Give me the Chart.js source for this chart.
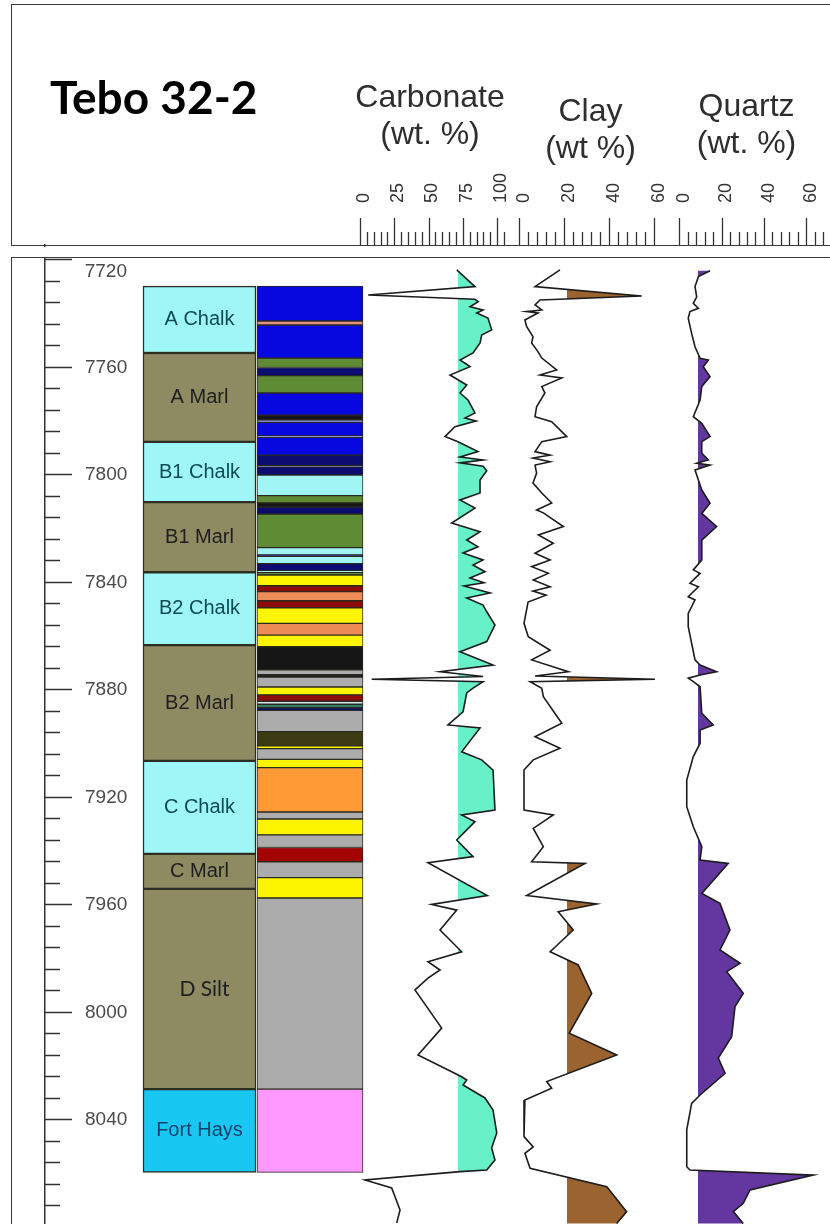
<!DOCTYPE html>
<html>
<head>
<meta charset="utf-8">
<title>Tebo 32-2</title>
<script src="https://cdn.jsdelivr.net/npm/chart.js@4.4.1/dist/chart.umd.min.js"></script>
<style>
  body { margin: 0; background: #fff; }
  #wrap { position: relative; width: 830px; height: 1224px; overflow: hidden; background: #fff; }
  .frame { position: absolute; border: 0 solid #3a3a3a; }
  #head { left: 11px; top: 4px; width: 840px; height: 239.5px; border-width: 1.5px 0 1.5px 1.5px; }
  #panel { left: 11px; top: 257px; width: 840px; height: 1000px; border-width: 1.5px 0 0 1.5px; }
  #chart { position: absolute; left: 0; top: 0; z-index: 1; }
  #gap { position: absolute; left: 0; top: 246.5px; width: 830px; height: 10.5px; background: #fff; z-index: 2; }
  #title { position: absolute; left: 50px; top: 74px; font: bold 46px Lato, sans-serif; line-height: 46px; color: #000; z-index: 3; }
  #topDepth { position: absolute; left: 70px; width: 57px; top: 260.5px; text-align: right; font: 19px 'Liberation Sans', Arial, sans-serif; line-height: 19px; color: #4a4a4a; z-index: 3; }
</style>
</head>
<body>
<div id="wrap">
  <div id="head" class="frame"></div>
  <div id="panel" class="frame"></div>
  <canvas id="chart" width="830" height="1224"></canvas>
  <div id="gap"></div>
  <div id="title">Tebo 32-2</div>
  <div id="topDepth">7720</div>
</div>
<script>
'use strict'

// formations (depth in ft)
const formName = ['A Chalk', 'A Marl', 'B1 Chalk', 'B1 Marl', 'B2 Chalk', 'B2 Marl', 'C Chalk', 'C Marl', 'D Silt', 'Fort Hays'];
const formTop  = [7729.7, 7754.6, 7787.7, 7810.1, 7836.2, 7863.3, 7906.4, 7941.0, 7954.0, 8028.5];
const formBase = [7754.6, 7787.7, 7810.1, 7836.2, 7863.3, 7906.4, 7941.0, 7954.0, 8028.5, 8059.5];

// lithofacies bands, contiguous from bandStart
const bandStart = 7729.7;
const bandBase = [7742.7, 7744.2, 7756.5, 7760.0, 7763.0, 7769.5, 7777.7, 7779.5, 7780.4, 7785.5,
  7786.0, 7792.6, 7796.5, 7797.0, 7800.0, 7807.7, 7810.4, 7811.9, 7814.5, 7827.0,
  7829.7, 7830.3, 7833.0, 7835.6, 7836.3, 7837.2, 7841.2, 7843.4, 7846.8, 7849.4,
  7855.2, 7859.6, 7863.9, 7872.5, 7874.3, 7875.2, 7878.9, 7881.8, 7884.2, 7885.3,
  7886.6, 7887.6, 7895.5, 7900.8, 7901.8, 7905.8, 7908.9, 7925.4, 7928.0, 7933.9,
  7938.6, 7943.9, 7949.8, 7957.4, 8028.5, 8059.5];
const bandFacies = ['blue', 'salmon', 'blue', 'green', 'navy', 'green', 'blue', 'black', 'lav', 'blue',
  'lav', 'blue', 'navy', 'lav', 'navy', 'cyan', 'green', 'black', 'navy', 'green',
  'cyan', 'navy', 'cyan', 'navy', 'cyan', 'green', 'yellow', 'darkRed', 'orange', 'darkRed',
  'yellow', 'orange', 'yellow', 'black', 'gray', 'black', 'gray', 'yellow', 'darkRed', 'pale',
  'teal', 'navy', 'gray', 'olive', 'yellow', 'gray', 'yellow', 'amber', 'gray', 'yellow',
  'gray', 'red', 'gray', 'yellow', 'gray', 'pink'];

// carbonate (wt. %)
const carbDepth = [7723.7, 7729.9, 7733.0, 7734.6, 7735.5, 7737.4, 7738.6, 7739.7, 7741.6, 7746.0,
  7747.9, 7750.9, 7754.6, 7757.2, 7759.7, 7762.8, 7766.5, 7769.5, 7772.1, 7776.9,
  7778.8, 7779.9, 7782.0, 7785.7, 7787.6, 7791.3, 7793.3, 7794.4, 7795.5, 7796.7,
  7798.4, 7801.9, 7806.7, 7809.3, 7812.3, 7817.9, 7821.1, 7824.2, 7826.7, 7829.0,
  7831.6, 7833.5, 7836.0, 7838.3, 7840.1, 7841.3, 7843.9, 7845.8, 7848.4, 7850.9,
  7855.8, 7862.0, 7865.8, 7870.7, 7873.2, 7875.0, 7876.0, 7876.9, 7879.3, 7881.1,
  7888.1, 7893.0, 7894.1, 7903.0, 7906.0, 7909.8, 7924.7, 7926.5, 7929.0, 7935.8,
  7942.0, 7944.3, 7956.5, 7959.8, 7961.9, 7969.3, 7977.4, 7981.1, 7984.2, 7987.2,
  7991.6, 8005.8, 8015.8, 8023.9, 8025.1, 8027.0, 8031.8, 8036.3, 8044.8, 8050.4,
  8054.9, 8058.6, 8059.2, 8062.3, 8065.3, 8073.5, 8078.3];
const carbValue = [67.7, 81.0, 3.1, 81.0, 83.4, 77.4, 86.9, 82.3, 90.5, 93.2,
  85.9, 84.7, 79.6, 70.1, 77.4, 62.8, 75.0, 70.1, 75.9, 81.0,
  73.7, 81.8, 66.4, 59.1, 68.6, 83.2, 70.1, 86.9, 70.1, 86.9,
  89.6, 84.7, 84.7, 70.1, 81.0, 64.0, 84.7, 75.0, 83.2, 72.3,
  86.9, 79.6, 88.3, 77.4, 87.6, 73.0, 92.0, 75.0, 86.9, 89.6,
  95.6, 89.6, 70.1, 94.2, 55.5, 86.9, 5.6, 86.9, 79.6, 75.0,
  72.3, 61.3, 84.7, 71.3, 85.9, 94.2, 95.6, 71.3, 81.0, 67.7,
  79.6, 46.7, 90.0, 49.4, 67.7, 55.5, 71.3, 46.7, 55.5, 46.7,
  37.2, 56.7, 39.4, 71.3, 75.0, 72.3, 88.3, 94.2, 96.9, 93.2,
  95.6, 89.6, 70.1, 0.7, 20.2, 26.3, 23.9];

// clay (wt %)
const clayDepth = [7723.7, 7729.9, 7733.4, 7734.9, 7736.7, 7738.6, 7739.2, 7739.7, 7742.3, 7744.8,
  7748.5, 7750.9, 7754.1, 7756.5, 7760.9, 7762.8, 7763.9, 7767.1, 7769.5, 7774.6,
  7778.3, 7780.2, 7785.7, 7787.6, 7791.3, 7792.6, 7793.7, 7795.1, 7796.3, 7799.3,
  7803.0, 7806.7, 7810.4, 7813.0, 7814.1, 7819.2, 7822.3, 7825.4, 7829.1, 7831.6,
  7834.1, 7836.6, 7839.1, 7841.6, 7843.2, 7844.7, 7847.3, 7855.2, 7860.2, 7865.2,
  7868.8, 7873.2, 7874.8, 7876.0, 7876.9, 7879.4, 7882.5, 7892.4, 7897.4, 7901.7,
  7906.0, 7909.8, 7924.7, 7926.5, 7931.5, 7938.3, 7943.9, 7944.5, 7956.5, 7959.6,
  7962.5, 7969.3, 7977.4, 7982.3, 7992.9, 8007.7, 8015.8, 8025.7, 8028.2, 8032.6,
  8046.2, 8050.0, 8052.4, 8058.0, 8064.8, 8074.1, 8078.5];
const clayValue = [16.0, 4.9, 52.3, 7.1, 4.9, 7.9, 1.2, 6.2, 0.4, 1.2,
  4.0, 3.4, 6.2, 7.9, 14.5, 7.1, 16.8, 7.9, 9.3, 5.6,
  4.9, 12.3, 19.0, 7.9, 4.9, 11.6, 4.0, 11.6, 4.9, 5.6,
  4.0, 7.9, 12.3, 5.6, 8.6, 17.5, 6.4, 13.0, 4.9, 11.6,
  3.4, 10.8, 4.1, 11.6, 4.0, 9.8, 1.8, 0.0, 1.9, 11.6,
  3.4, 19.7, 4.9, 58.2, 2.7, 7.9, 8.6, 16.8, 4.9, 16.0,
  4.1, 0.0, 0.0, 13.0, 4.1, 8.6, 3.4, 27.1, 1.2, 32.3,
  15.2, 21.9, 11.6, 24.1, 30.1, 20.1, 41.2, 10.1, 12.3, 0.4,
  0.0, 4.1, 0.4, 2.7, 36.8, 45.6, 41.2];

// quartz (wt. %)
const qtzDepth = [7724.0, 7726.2, 7729.9, 7733.7, 7736.1, 7738.0, 7739.2, 7741.7, 7747.3, 7752.3,
  7756.6, 7757.2, 7759.7, 7763.4, 7767.1, 7772.1, 7778.3, 7780.8, 7785.7, 7787.6,
  7791.9, 7794.4, 7795.6, 7796.3, 7798.1, 7805.6, 7810.5, 7814.3, 7819.2, 7824.2,
  7831.6, 7835.3, 7836.6, 7840.3, 7841.6, 7845.3, 7846.5, 7851.5, 7856.4, 7862.6,
  7868.8, 7870.7, 7873.2, 7874.4, 7875.6, 7876.9, 7878.8, 7888.7, 7893.0, 7894.9,
  7899.8, 7904.8, 7913.5, 7923.4, 7930.9, 7938.3, 7943.3, 7944.5, 7955.7, 7959.4,
  7969.3, 7976.7, 7981.7, 7984.8, 7992.9, 7997.8, 8009.0, 8017.0, 8022.6, 8030.7,
  8033.8, 8043.7, 8057.4, 8058.6, 8060.5, 8066.0, 8071.0, 8074.1, 8078.5];
const qtzValue = [12.3, 6.8, 5.2, 6.0, 4.4, 6.8, 2.8, 2.0, 3.6, 5.2,
  7.6, 11.5, 9.1, 12.3, 8.4, 7.6, 4.4, 8.4, 12.3, 8.4,
  8.4, 11.5, 6.0, 12.3, 5.2, 8.4, 12.3, 8.4, 15.4, 8.4,
  8.4, 4.4, 7.6, 2.8, 6.8, 2.0, 5.2, 2.0, 2.0, 3.6,
  5.2, 7.6, 15.4, 7.6, 2.0, 4.4, 7.6, 8.4, 13.8, 7.6,
  7.6, 4.4, 1.3, 1.3, 4.4, 8.4, 7.6, 20.9, 8.4, 17.0,
  21.7, 17.0, 26.5, 20.2, 28.0, 24.1, 22.5, 16.2, 19.4, 7.6,
  3.6, 1.3, 1.3, 2.8, 61.1, 31.2, 28.0, 23.3, 28.0];

// tick labels
const depthLabels = [7720, 7760, 7800, 7840, 7880, 7920, 7960, 8000, 8040, 8080];
const carbLabels = [0, 25, 50, 75, 100];
const clayLabels = [0, 20, 40, 60];
const qtzLabels = [0, 20, 40, 60];

const faciesColor = {
  blue: '#0707e0', navy: '#0b0b70', green: '#5f8b34', salmon: '#e3927f', lav: '#8a8ee0',
  black: '#161616', cyan: '#a2f5f5', yellow: '#fdf400', darkRed: '#8d0b0b', orange: '#ee8c58',
  amber: '#ff9a36', gray: '#acacac', pale: '#cfe6ee', teal: '#2f7d62', olive: '#3c3b14',
  red: '#a40303', pink: '#ff99ff'
};
const formColor = n => n.includes('Chalk') ? '#9ff6f6' : n === 'Fort Hays' ? '#18c7f2' : '#8e8a62';
const formInk = n => n.includes('Chalk') ? '#0f4a56' : n === 'Fort Hays' ? '#17406c' : '#1e1e1e';

const FONT = "'Liberation Sans', Arial, sans-serif";
Chart.defaults.font.family = FONT;

const pts = (d, v) => d.map((y, i) => ({x: v[i], y: y}));
const isLabel = (list, c) => !!(c.tick && list.includes(Math.round(c.tick.value * 100) / 100));

// fill a log curve only on the high side of its cut-off
const logFill = {
  id: 'logFill',
  beforeDatasetDraw(chart, args) {
    const ds = chart.data.datasets[args.index];
    if (ds.fillBase === undefined) return;
    const meta = args.meta, p = meta.data, area = chart.chartArea, ctx = chart.ctx;
    const base = Math.round(chart.scales[meta.xAxisID].getPixelForValue(ds.fillBase));
    ctx.save();
    ctx.beginPath();
    ctx.rect(base, area.top, area.right - base, area.bottom - area.top);
    ctx.clip();
    ctx.beginPath();
    ctx.moveTo(base - 2, p[0].y);
    p.forEach(pt => ctx.lineTo(pt.x, pt.y));
    ctx.lineTo(base - 2, p[p.length - 1].y);
    ctx.closePath();
    ctx.fillStyle = ds.fillColor;
    ctx.fill();
    ctx.restore();
  }
};

const formLabels = {
  id: 'formLabels',
  afterDatasetsDraw(chart) {
    const ctx = chart.ctx;
    ctx.save();
    ctx.textAlign = 'center';
    ctx.textBaseline = 'middle';
    chart.getDatasetMeta(0).data.forEach((bar, i) => {
      const n = formName[i];
      ctx.font = n === 'D Silt' ? '21px Lato, sans-serif' : '20px ' + FONT;
      ctx.fillStyle = formInk(n);
      ctx.fillText(n, bar.x + (n === 'D Silt' ? 5 : 0), (bar.y + bar.base) / 2);
    });
    ctx.restore();
  }
};

const minorDash = [0, 14, 13, 40];
const fitTop = s => { s.height = 240; s.paddingLeft = 0; s.paddingRight = 0; s.paddingTop = 0; s.paddingBottom = 0; };

function track(weight, stackWeight, min, max, step, last, labels, title, padTop) {
  return {
    type: 'linear', position: 'top', stack: 'trk', stackWeight: stackWeight, weight: weight,
    min: min, max: max, offset: false,
    afterBuildTicks: s => { s.ticks = s.ticks.filter(t => t.value >= 0 && t.value <= last); },
    afterFit: fitTop,
    ticks: {
      stepSize: step, includeBounds: false, autoSkip: false, minRotation: 90, maxRotation: 90,
      padding: 15, labelOffset: 21.6, color: '#333', font: {size: 18},
      callback: v => labels.includes(v) ? String(v) : ''
    },
    grid: {
      drawOnChartArea: false, tickLength: 27, tickColor: '#333', tickWidth: 1.3,
      tickBorderDash: c => isLabel(labels, c) ? [] : minorDash
    },
    border: {display: false},
    title: {display: true, text: title, color: '#2e2e2e', font: {size: 32, lineHeight: 1.15}, padding: {top: padTop, bottom: 0}}
  };
}

new Chart(document.getElementById('chart'), {
  type: 'bar',
  data: {
    datasets: [
      {
        type: 'bar', label: 'Formation', xAxisID: 'xLith', yAxisID: 'y',
        data: formName.map((n, i) => ({x: 1, y: [formTop[i], formBase[i]]})),
        backgroundColor: formName.map(formColor), borderColor: '#2e2e24', borderWidth: 1.5,
        borderSkipped: false, barThickness: 113, grouped: false, clip: false
      },
      {
        type: 'bar', label: 'Lithology', xAxisID: 'xLith', yAxisID: 'y',
        data: bandBase.map((b, i) => ({x: 2, y: [i ? bandBase[i - 1] : bandStart, b]})),
        backgroundColor: bandFacies.map(f => faciesColor[f]), borderColor: '#2a2a20', borderWidth: 1,
        borderSkipped: false, barThickness: 106, grouped: false, clip: false
      },
      {
        type: 'line', label: 'Carbonate', xAxisID: 'xCarb', yAxisID: 'y', indexAxis: 'y',
        data: pts(carbDepth, carbValue), borderColor: '#1c1c1c', borderWidth: 1.6,
        pointRadius: 0, fill: false, tension: 0, fillBase: 68.6, fillColor: '#68f0c8'
      },
      {
        type: 'line', label: 'Clay', xAxisID: 'xClay', yAxisID: 'y', indexAxis: 'y',
        data: pts(clayDepth, clayValue), borderColor: '#1c1c1c', borderWidth: 1.6,
        pointRadius: 0, fill: false, tension: 0, fillBase: 19.1, fillColor: '#9a6330'
      },
      {
        type: 'line', label: 'Quartz', xAxisID: 'xQtz', yAxisID: 'y', indexAxis: 'y',
        data: pts(qtzDepth, qtzValue), borderColor: '#1c1c1c', borderWidth: 1.6,
        pointRadius: 0, fill: false, tension: 0, fillBase: 6.7, fillColor: '#63379f'
      }
    ]
  },
  options: {
    responsive: false,
    devicePixelRatio: 1,
    animation: false,
    events: [],
    layout: {autoPadding: false, padding: {left: 45, top: 5, right: 0, bottom: 0}},
    plugins: {legend: {display: false}, tooltip: {enabled: false}},
    scales: {
      yFrame: {
        type: 'linear', position: 'left', weight: 2,
        ticks: {display: false},
        grid: {drawOnChartArea: false, drawTicks: false},
        border: {display: true, color: '#333', width: 1.5},
        afterFit: s => { s.width = 0; s.paddingTop = 0; s.paddingBottom = 0; }
      },
      y: {
        type: 'linear', position: 'left', weight: 1, reverse: true, offset: false,
        min: 7714.42, max: 8078.7, beginAtZero: false,
        afterFit: s => { s.width = 35; s.paddingTop = 0; s.paddingBottom = 0; },
        ticks: {
          stepSize: 8, includeBounds: false, autoSkip: false, mirror: true, padding: 5,
          crossAlign: 'far', color: '#4a4a4a', font: {size: 19},
          callback: v => depthLabels.includes(v) && v !== depthLabels[0] ? String(v) : ''
        },
        grid: {
          drawOnChartArea: false, tickLength: 35, tickColor: '#333', tickWidth: 1.5,
          tickBorderDash: c => isLabel(depthLabels, c) ? [27, 20] : [15, 30]
        },
        border: {display: false}
      },
      xLith: {
        type: 'linear', position: 'top', stack: 'trk', stackWeight: 262, weight: 4,
        display: false, min: -0.0814, max: 2.2896, offset: false,
        afterFit: fitTop
      },
      xCarb: track(3, 176, -16.06, 112.41, 5, 100, carbLabels, ['Carbonate', '(wt. %)'], 75),
      xClay: track(2, 145, -2.667, 61.78, 4, 60, clayLabels, ['Clay', '(wt %)'], 89),
      xQtz: track(1, 167, -9.92, 68.97, 4, 64, qtzLabels, ['Quartz', '(wt. %)'], 84)
    }
  },
  plugins: [logFill, formLabels]
});
</script>
</body>
</html>
